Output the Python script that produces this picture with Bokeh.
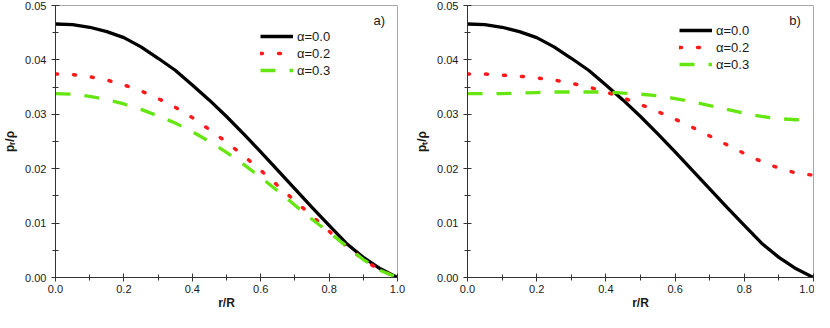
from bokeh.plotting import figure
from bokeh.layouts import row
from bokeh.models import Range1d, SingleIntervalTicker, NumeralTickFormatter, Label, Legend, LegendItem
from bokeh.embed import file_html
from bokeh.resources import INLINE

# ---------------- data ----------------
r = [0.00, 0.05, 0.10, 0.15, 0.20, 0.25, 0.30, 0.35, 0.40, 0.45, 0.50,
     0.55, 0.60, 0.65, 0.70, 0.75, 0.80, 0.85, 0.90, 0.95, 1.00]

# alpha = 0.0 (isotropic case, identical in both panels)
p_alpha00 = [0.0466, 0.0465, 0.0460, 0.0452, 0.0441, 0.0424, 0.0403, 0.0381, 0.0354, 0.0326, 0.0296,
             0.0264, 0.0231, 0.0197, 0.0163, 0.0129, 0.0096, 0.0063, 0.0037, 0.0016, 0.0000]
# panel a) radial pressure
pr_alpha02 = [0.0374, 0.0373, 0.0369, 0.0363, 0.0354, 0.0343, 0.0329, 0.0313, 0.0294, 0.0272, 0.0249,
              0.0224, 0.0197, 0.0169, 0.0141, 0.0113, 0.0085, 0.0058, 0.0033, 0.0013, 0.0000]
pr_alpha03 = [0.0338, 0.0337, 0.0333, 0.0327, 0.0319, 0.0309, 0.0297, 0.0284, 0.0268, 0.0250, 0.0230,
              0.0208, 0.0184, 0.0159, 0.0133, 0.0107, 0.0083, 0.0058, 0.0033, 0.0013, 0.0000]
# panel b) tangential pressure
pt_alpha02 = [0.0374, 0.0374, 0.0372, 0.0370, 0.0367, 0.0363, 0.0357, 0.0350, 0.0341, 0.0330, 0.0318,
              0.0305, 0.0291, 0.0276, 0.0260, 0.0244, 0.0228, 0.0213, 0.0201, 0.0192, 0.0188]
pt_alpha03 = [0.0338, 0.0338, 0.0338, 0.0339, 0.0340, 0.0341, 0.0341, 0.0341, 0.0341, 0.0339, 0.0337,
              0.0334, 0.0329, 0.0323, 0.0316, 0.0309, 0.0302, 0.0296, 0.0292, 0.0290, 0.0291]

series_labels = ["α=0.0", "α=0.2", "α=0.3"]
x_label = "r/R"
y_labels = ["pᵣ/ρ", "pₜ/ρ"]
panel_tags = ["a)", "b)"]

FONT = "Liberation Sans"
H = 312


def make_panel(tag, ylab, y02, y03, width, min_left, min_right, leg_x, leg_y):
    p = figure(width=width, height=H, output_backend="svg", toolbar_location=None,
               x_range=Range1d(0, 1), y_range=Range1d(0, 0.05),
               min_border_left=min_left, min_border_right=min_right,
               min_border_top=5, min_border_bottom=34)
    p.grid.visible = False
    p.outline_line_color = "#a8a8a8"
    p.background_fill_color = "white"
    p.border_fill_color = "white"

    p.xaxis.ticker = SingleIntervalTicker(interval=0.2, num_minor_ticks=2)
    p.yaxis.ticker = SingleIntervalTicker(interval=0.01, num_minor_ticks=2)
    p.xaxis.formatter = NumeralTickFormatter(format="0.0")
    p.yaxis.formatter = NumeralTickFormatter(format="0.00")
    for ax in (p.xaxis, p.yaxis):
        ax.axis_line_color = "#333333"
        ax.major_tick_line_color = "#333333"
        ax.minor_tick_line_color = "#333333"
        ax.major_tick_in = 4
        ax.major_tick_out = 4
        ax.minor_tick_in = 3
        ax.minor_tick_out = 3
        ax.major_label_text_font = FONT
        ax.major_label_text_font_size = "11px"
        ax.major_label_text_color = "#1a1a1a"
        ax.major_label_text_line_height = 1.0
        ax.axis_label_text_font = FONT
        ax.axis_label_text_font_size = "12px"
        ax.axis_label_text_font_style = "bold"
        ax.axis_label_text_color = "#1a1a1a"
        ax.axis_label_text_line_height = 1.0
    p.xaxis.major_label_standoff = 3
    p.yaxis.major_label_standoff = 5
    p.xaxis.axis_label = x_label
    p.xaxis.axis_label_standoff = 0
    p.yaxis.axis_label = ylab
    p.yaxis.axis_label_standoff = 5

    l0 = p.line(r, p_alpha00, line_color="black", line_width=3.3)
    l1 = p.line(r, y02, line_color="#ff1a1a", line_width=3.5, line_dash="2 16", line_cap="round")
    l2 = p.line(r, y03, line_color="#66e610", line_width=3.3, line_dash="15 14")

    legend = Legend(items=[LegendItem(label=series_labels[0], renderers=[l0]),
                           LegendItem(label=series_labels[1], renderers=[l1]),
                           LegendItem(label=series_labels[2], renderers=[l2])],
                    location=(leg_x, leg_y))
    legend.glyph_width = 33
    legend.glyph_height = 16
    legend.label_height = 16
    legend.spacing = 1
    legend.padding = 0
    legend.margin = 0
    legend.label_standoff = 4
    legend.label_text_font = FONT
    legend.label_text_font_size = "13px"
    legend.label_text_color = "#1a1a1a"
    legend.border_line_alpha = 0
    legend.background_fill_alpha = 0
    p.add_layout(legend, "center")

    p.add_layout(Label(x=0.93, y=0.0472, text=tag, text_baseline="middle",
                       text_font=FONT, text_font_size="13px", text_color="#1a1a1a"))
    return p


p1 = make_panel(panel_tags[0], y_labels[0], pr_alpha02, pr_alpha03, 407, 51, 10, 205, 199)
p2 = make_panel(panel_tags[1], y_labels[1], pt_alpha02, pt_alpha03, 407, 60, 1, 212, 205)

layout = row(p1, p2)
open("out.html", "w").write(file_html(layout, INLINE))
